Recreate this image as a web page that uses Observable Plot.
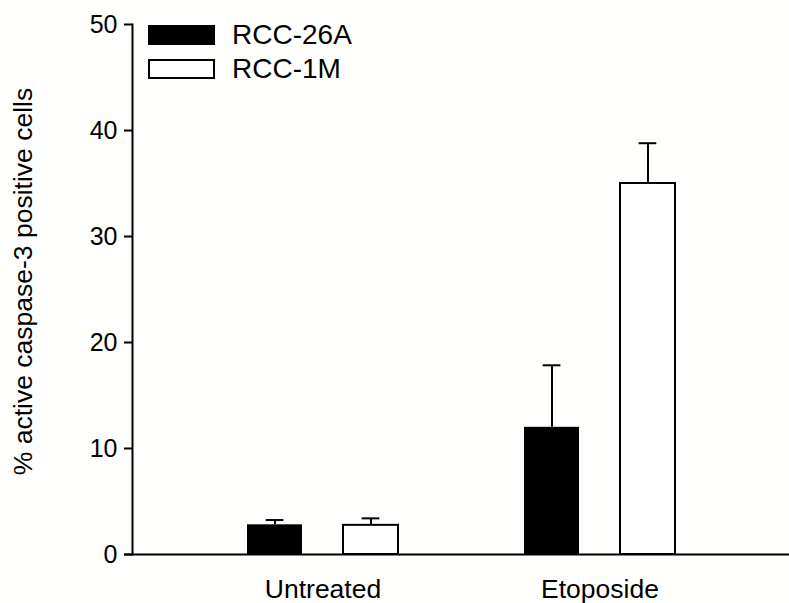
<!DOCTYPE html>
<html>
<head>
<meta charset="utf-8">
<script src="https://cdn.jsdelivr.net/npm/d3@7"></script>
<script src="https://cdn.jsdelivr.net/npm/@observablehq/plot@0.6"></script>
<style>
  html, body { margin: 0; padding: 0; background: #fefefc; }
  #wrap { position: relative; width: 789px; height: 603px; font-family: "Liberation Sans", Arial, sans-serif; }
  .legend { position: absolute; left: 148px; top: 18px; }
  .item { display: flex; align-items: center; height: 34px; }
  .sw { width: 67px; height: 20px; box-sizing: border-box; border: 2px solid #000; margin-right: 17px; }
  .lab { font-size: 28px; color: #000; line-height: 1; }
</style>
</head>
<body>
<div id="wrap"></div>
<script>
const categories = ["Untreated", "Etoposide"];
const series = ["RCC-26A", "RCC-1M"];
const rcc26a = [2.8, 12.0];
const rcc26aErr = [0.45, 5.85];
const rcc1m = [2.75, 35.0];
const rcc1mErr = [0.66, 3.8];
const yTicks = [0, 10, 20, 30, 40, 50];
const yLabel = "% active caspase-3 positive cells";
const seriesFill = ["#000000", "#ffffff"];

const d26 = categories.map((c, i) => ({category: c, value: rcc26a[i], top: rcc26a[i] + rcc26aErr[i]}));
const d1m = categories.map((c, i) => ({category: c, value: rcc1m[i], top: rcc1m[i] + rcc1mErr[i]}));

const chart = Plot.plot({
  width: 789,
  height: 603,
  marginLeft: 132,
  marginRight: 0,
  marginTop: 24,
  marginBottom: 49,
  style: {fontFamily: "'Liberation Sans', Arial, sans-serif", background: "transparent", color: "#000"},
  x: {domain: categories, paddingInner: 0.456, paddingOuter: 0.41, align: 0.5},
  y: {domain: [0, 50]},
  marks: [
    Plot.barY(d26, {x: "category", y: "value", fill: seriesFill[0], insetRight: 96}),
    Plot.barY(d1m, {x: "category", y: "value", fill: seriesFill[1], stroke: "#000", strokeWidth: 2, insetLeft: 96}),
    Plot.ruleX(d26, {x: "category", y1: "value", y2: "top", dx: -48, stroke: "#000", strokeWidth: 2}),
    Plot.ruleX(d1m, {x: "category", y1: "value", y2: "top", dx: 48, stroke: "#000", strokeWidth: 2}),
    Plot.tickY(d26, {x: "category", y: "top", insetLeft: 18.7, insetRight: 114.6, stroke: "#000", strokeWidth: 2}),
    Plot.tickY(d1m, {x: "category", y: "top", insetLeft: 114.6, insetRight: 18.7, stroke: "#000", strokeWidth: 2}),
    Plot.ruleY([0], {insetLeft: -8, stroke: "#000", strokeWidth: 2}),
    Plot.frame({anchor: "left", stroke: "#000", strokeWidth: 2}),
    Plot.axisY({ticks: yTicks, tickSize: 8, tickPadding: 7, fontSize: 25, label: null, strokeWidth: 2}),
    Plot.axisX({tickSize: 0, tickPadding: 25, fontSize: 26.5, label: null}),
    Plot.text([yLabel], {frameAnchor: "left", textAnchor: "middle", lineAnchor: "middle", rotate: -90, dx: -109, dy: -8, fontSize: 26.5, fill: "#000"})
  ]
});

const wrap = document.getElementById("wrap");
wrap.appendChild(chart);
const legend = document.createElement("div");
legend.className = "legend";
series.forEach((s, i) => {
  const item = document.createElement("div");
  item.className = "item";
  const sw = document.createElement("div");
  sw.className = "sw";
  sw.style.background = seriesFill[i];
  const lab = document.createElement("span");
  lab.className = "lab";
  lab.textContent = s;
  item.appendChild(sw);
  item.appendChild(lab);
  legend.appendChild(item);
});
wrap.appendChild(legend);
</script>
</body>
</html>
